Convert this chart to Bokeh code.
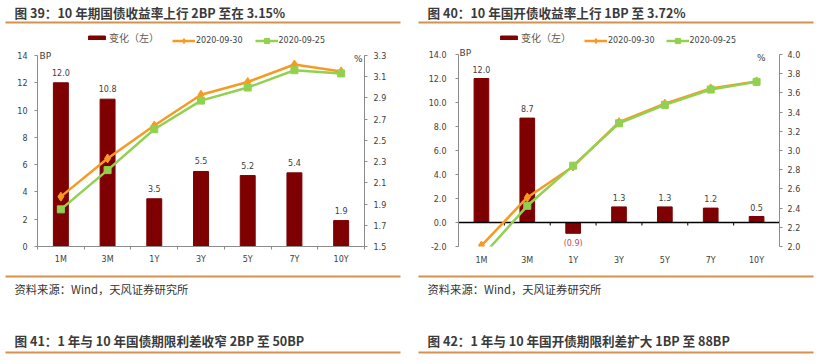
from bokeh.plotting import figure
from bokeh.models import (Range1d, LinearAxis, FixedTicker, Legend, LegendItem, Label,
                          ColumnDataSource, NumeralTickFormatter)
from bokeh.layouts import row, column
from bokeh.embed import file_html
from bokeh.resources import INLINE
from bokeh.core.properties import value

# ---------------- data ----------------
categories = ["1M", "3M", "1Y", "3Y", "5Y", "7Y", "10Y"]

# Fig 39: treasury bonds
gov_change_bp = [12.0, 10.8, 3.5, 5.5, 5.2, 5.4, 1.9]
gov_yield_0930 = [1.97, 2.33, 2.64, 2.93, 3.05, 3.215, 3.15]
gov_yield_0925 = [1.85, 2.22, 2.605, 2.875, 2.998, 3.161, 3.131]

# Fig 40: CDB bonds
cdb_change_bp = [12.0, 8.7, -0.9, 1.3, 1.3, 1.2, 0.5]
cdb_yield_0930 = [2.01, 2.511, 2.833, 3.296, 3.488, 3.647, 3.72]
cdb_yield_0925 = [1.89, 2.424, 2.842, 3.283, 3.475, 3.635, 3.715]

gov_left_ticks = [0, 2, 4, 6, 8, 10, 12, 14]
gov_right_ticks = [1.5, 1.7, 1.9, 2.1, 2.3, 2.5, 2.7, 2.9, 3.1, 3.3]
cdb_left_ticks = [-2, 0, 2, 4, 6, 8, 10, 12, 14]
cdb_right_ticks = [2.0, 2.2, 2.4, 2.6, 2.8, 3.0, 3.2, 3.4, 3.6, 3.8, 4.0]

series_labels = ["变化（左）", "2020-09-30", "2020-09-25"]
title_39 = "图 39：10 年期国债收益率上行 2BP 至在 3.15%"
title_40 = "图 40：10 年国开债收益率上行 1BP 至 3.72%"
title_41 = "图 41：1 年与 10 年国债期限利差收窄 2BP 至 50BP"
title_42 = "图 42：1 年与 10 年国开债期限利差扩大 1BP 至 88BP"
source_text = "资料来源：Wind，天风证券研究所"

# ---------------- styles ----------------
BAR = "#7F0000"
ORANGE = "#F79A24"
GREEN = "#92D050"
RULE = "#D4924F"
AXIS = "#8C8C8C"
TXT = "#404040"
NEG = "#C84B4B"
LATIN = "DejaVu Sans"
CJK = "Noto Sans CJK SC"
PAGE_W = 820
HALF_W = 410
CHART_H = 240   # chart figures span page y 30..270
FRAME_BOTTOM = 246


def style_axis(ax):
    ax.axis_line_color = AXIS
    ax.major_tick_line_color = AXIS
    ax.minor_tick_line_color = None
    ax.major_tick_in = 0
    ax.major_tick_out = 3
    ax.major_label_text_font = LATIN
    ax.major_label_text_font_size = "8px"
    ax.major_label_text_color = TXT


def make_chart(change, y30, y25, lbounds, lticks, lfmt, rbounds, rticks, axis_top_px,
               border_lr, zero_axis, label_dy, leg1_x, leg2_x, leg_spacing, lstand, rstand,
               bp_xy, bp_dx, pct_xy, pct_dx, zero_tick):
    n = len(categories)
    centers = [i + 0.5 for i in range(n)]
    bounds = list(range(n + 1))
    bl, br = border_lr
    # frame spans the whole chart height above the axis; axes are bounded to the tick range
    frame_h = FRAME_BOTTOM - 30
    axis_h = FRAME_BOTTOM - axis_top_px
    l_end = lbounds[0] + (lbounds[1] - lbounds[0]) * frame_h / axis_h
    r_end = rbounds[0] + (rbounds[1] - rbounds[0]) * frame_h / axis_h
    p = figure(width=HALF_W, height=CHART_H, x_range=Range1d(0, n),
               y_range=Range1d(lbounds[0], l_end),
               output_backend="svg", toolbar_location=None,
               x_axis_type=None, y_axis_type=None,
               min_border_left=bl, min_border_right=br, min_border_top=0,
               min_border_bottom=CHART_H - frame_h)
    p.outline_line_color = None
    p.extra_y_ranges = {"pct": Range1d(rbounds[0], r_end)}

    xa = LinearAxis(ticker=FixedTicker(ticks=centers, minor_ticks=bounds),
                    major_label_overrides={c: lab for c, lab in zip(centers, categories)})
    style_axis(xa)
    xa.major_tick_line_color = None
    xa.major_label_standoff = 5
    if zero_axis:
        xa.axis_line_color = None
        xa.minor_tick_line_color = None
    else:
        xa.minor_tick_line_color = AXIS
        xa.minor_tick_in = 0
        xa.minor_tick_out = 3
    p.add_layout(xa, "below")

    ya = LinearAxis(ticker=FixedTicker(ticks=lticks), formatter=NumeralTickFormatter(format=lfmt),
                    bounds=lbounds)
    style_axis(ya)
    ya.major_label_standoff = lstand
    p.add_layout(ya, "left")

    yr = LinearAxis(y_range_name="pct", ticker=FixedTicker(ticks=rticks),
                    formatter=NumeralTickFormatter(format="0.0"), bounds=rbounds)
    style_axis(yr)
    yr.major_label_standoff = rstand
    p.add_layout(yr, "right")

    src = ColumnDataSource(dict(x=centers, change=change, y30=y30, y25=y25))
    bars = p.vbar(x="x", top="change", bottom=0, width=0.32, source=src,
                  fill_color=BAR, line_color=BAR)

    pos_x = [c for c, v in zip(centers, change) if v >= 0]
    pos_v = [v for v in change if v >= 0]
    neg_x = [c for c, v in zip(centers, change) if v < 0]
    neg_v = [v for v in change if v < 0]
    p.text(x=pos_x, y=pos_v, text=[f"{v:.1f}" for v in pos_v], text_align="center",
           text_baseline="bottom", y_offset=label_dy, text_font=value(LATIN),
           text_font_size="8px", text_color=TXT)
    if neg_v:
        p.text(x=neg_x, y=neg_v, text=[f"({abs(v):.1f})" for v in neg_v], text_align="center",
               text_baseline="top", y_offset=6, text_font=value(LATIN),
               text_font_size="8px", text_color=NEG)

    if zero_axis:
        inner = bounds[1:-1]
        p.segment(x0=[0], y0=[0], x1=[n], y1=[0], line_color="black", line_width=1.5)
        p.segment(x0=inner, y0=[0] * len(inner), x1=inner, y1=[zero_tick] * len(inner),
                  line_color="black", line_width=1)

    l30 = p.line("x", "y30", source=src, y_range_name="pct", line_color=ORANGE, line_width=2.5)
    m30 = p.scatter("x", "y30", source=src, y_range_name="pct", marker="diamond", size=9,
                    fill_color=ORANGE, line_color=ORANGE)
    l25 = p.line("x", "y25", source=src, y_range_name="pct", line_color=GREEN, line_width=2.5)
    m25 = p.scatter("x", "y25", source=src, y_range_name="pct", marker="square", size=7,
                    fill_color=GREEN, line_color=GREEN)

    leg1 = Legend(items=[LegendItem(label=series_labels[0], renderers=[bars])],
                  location=(leg1_x, 201), orientation="horizontal",
                  glyph_width=21, glyph_height=5, label_height=9, label_standoff=2,
                  label_text_font=CJK, label_text_font_size="10px", label_text_color="#595959",
                  padding=0, margin=0, border_line_color=None, background_fill_alpha=0)
    leg2 = Legend(items=[LegendItem(label=series_labels[1], renderers=[l30, m30]),
                         LegendItem(label=series_labels[2], renderers=[l25, m25])],
                  location=(leg2_x, 199), orientation="horizontal", spacing=leg_spacing,
                  glyph_width=23, glyph_height=13, label_height=13, label_standoff=1,
                  label_text_font=LATIN, label_text_font_size="8px", label_text_color=TXT,
                  padding=0, margin=0, border_line_color=None, background_fill_alpha=0)
    p.add_layout(leg1)
    p.add_layout(leg2)

    p.add_layout(Label(x=bp_xy[0], y=bp_xy[1], text="BP", x_offset=bp_dx, text_align="left",
                       text_baseline="middle", text_font=LATIN, text_font_size="9px",
                       text_color=TXT))
    p.add_layout(Label(x=pct_xy[0], y=pct_xy[1], text="%", x_offset=pct_dx, text_align="right",
                       text_baseline="middle", text_font=LATIN, text_font_size="9px",
                       text_color=TXT))
    return p


def deco(y_top, y_bot):
    p = figure(width=PAGE_W, height=y_bot - y_top, x_range=Range1d(0, PAGE_W),
               y_range=Range1d(y_bot, y_top), output_backend="svg", toolbar_location=None,
               x_axis_type=None, y_axis_type=None, min_border=0)
    p.outline_line_color = None
    return p


def add_title(p, x, y, text):
    p.text(x=[x], y=[y], text=[text], text_baseline="middle", text_font=value(CJK),
           text_font_size="12.6px", text_font_style="bold", text_color="#3a3a3a")


def add_rule(p, x0, x1, y):
    p.segment(x0=[x0], y0=[y], x1=[x1], y1=[y], line_color=RULE, line_width=2)


header = deco(0, 30)
add_title(header, 14, 12, title_39)
add_title(header, 427, 12, title_40)
add_rule(header, 5, 400, 22)
add_rule(header, 418, 813, 22)

footer = deco(270, 364)
for x0, x1, tx, ttl in [(5, 400, 14, title_41), (418, 813, 427, title_42)]:
    add_rule(footer, x0, x1, 276)
    add_rule(footer, x0, x1, 352)
    footer.text(x=[tx], y=[288], text=[source_text], text_baseline="middle",
                text_font=value(CJK), text_font_size="11.3px", text_color="#333333")
    add_title(footer, tx, 340, ttl)

left_chart = make_chart(gov_change_bp, gov_yield_0930, gov_yield_0925, (0, 14), gov_left_ticks, "0",
                        (1.5, 3.3), gov_right_ticks, 55, (37, 46), False, -7,
                        49, 135, 12, 7, 6, (0, 13.93), 2, (7, 13.78), -2, 0)
right_chart = make_chart(cdb_change_bp, cdb_yield_0930, cdb_yield_0925, (-2, 14), cdb_left_ticks, "0.0",
                         (2.0, 4.0), cdb_right_ticks, 54, (48, 41), True, -6,
                         40, 126, 11, 9, 5, (0, 14.12), 1, (7, 13.67), -14, -0.25)

layout = column(header, row(left_chart, right_chart), footer)

open("out.html", "w").write(file_html(layout, INLINE))
